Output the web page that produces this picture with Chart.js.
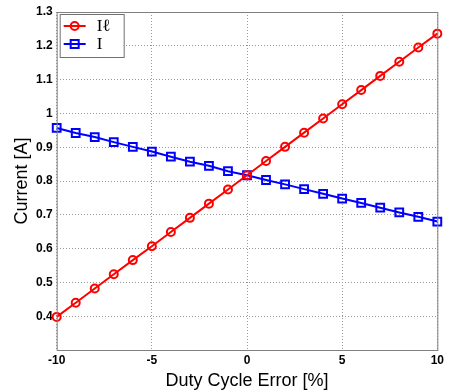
<!DOCTYPE html>
<html>
<head>
<meta charset="utf-8">
<script src="https://cdn.jsdelivr.net/npm/chart.js@4.4.0/dist/chart.umd.min.js"></script>
<style>
  html, body { margin: 0; padding: 0; background: #fff; }
  #wrap { width: 449px; height: 390px; }
</style>
</head>
<body>
<div id="wrap"><canvas id="chart" width="449" height="390"></canvas></div>
<script>
const dutyError = [-10, -9, -8, -7, -6, -5, -4, -3, -2, -1, 0, 1, 2, 3, 4, 5, 6, 7, 8, 9, 10]
const currentIL = [0.398, 0.440, 0.482, 0.524, 0.566, 0.607, 0.649, 0.691, 0.733, 0.775, 0.817,
    0.859, 0.901, 0.943, 0.985, 1.027, 1.069, 1.111, 1.153, 1.195, 1.236]
const currentI = [0.957, 0.942, 0.930, 0.915, 0.901, 0.887, 0.872, 0.857, 0.845, 0.829, 0.817,
    0.803, 0.790, 0.776, 0.762, 0.748, 0.735, 0.721, 0.707, 0.694, 0.680]
const seriesNames = ['I\u2113', 'I']

const toPoints = ys => dutyError.map((x, i) => ({ x: x, y: ys[i] }))

// frame around the plot + legend box inside top-left
const framePlugin = {
    id: 'frame',
    afterDraw(chart) {
        const { ctx, chartArea: a } = chart
        ctx.save()
        ctx.strokeStyle = '#808080'
        ctx.lineWidth = 1
        ctx.strokeRect(a.left + 0.5, a.top + 0.5, a.right - a.left, a.bottom - a.top)

        // legend
        const bx = a.left + 3, by = a.top + 2, bw = 64, bh = 43
        ctx.fillStyle = '#fff'
        ctx.fillRect(bx, by, bw, bh)
        ctx.strokeStyle = '#707070'
        ctx.strokeRect(bx + 0.5, by + 0.5, bw, bh)
        chart.data.datasets.forEach((ds, i) => {
            const y = by + 12 + i * 18
            ctx.strokeStyle = ds.borderColor
            ctx.lineWidth = 2
            ctx.beginPath()
            ctx.moveTo(bx + 4, y)
            ctx.lineTo(bx + 26, y)
            ctx.stroke()
            ctx.beginPath()
            if (ds.pointStyle === 'circle') {
                ctx.arc(bx + 15, y, 4, 0, Math.PI * 2)
            } else {
                ctx.rect(bx + 11, y - 4, 8, 8)
            }
            ctx.stroke()
            ctx.fillStyle = '#000'
            ctx.font = '17px "Liberation Serif", serif'
            ctx.textBaseline = 'middle'
            ctx.fillText(ds.label, bx + 37, y + 1)
        })
        ctx.restore()
    }
}

const ctx = document.getElementById('chart').getContext('2d')
new Chart(ctx, {
    type: 'line',
    data: {
        datasets: [{
            label: seriesNames[0],
            data: toPoints(currentIL),
            borderColor: '#ff0000',
            backgroundColor: 'rgba(0,0,0,0)',
            borderWidth: 2,
            pointStyle: 'circle',
            pointRadius: 4,
            pointBorderWidth: 2,
            pointBackgroundColor: 'rgba(0,0,0,0)'
        }, {
            label: seriesNames[1],
            data: toPoints(currentI),
            borderColor: '#0000ff',
            backgroundColor: 'rgba(0,0,0,0)',
            borderWidth: 2,
            pointStyle: 'rect',
            pointRadius: 5.5,
            pointBorderWidth: 2,
            pointBackgroundColor: 'rgba(0,0,0,0)'
        }]
    },
    options: {
        responsive: false,
        animation: false,
        clip: false,
        layout: { padding: { left: 13, right: 11, top: 12, bottom: 0 } },
        scales: {
            x: {
                type: 'linear',
                min: -10,
                max: 10,
                ticks: {
                    stepSize: 5,
                    color: '#000',
                    font: { family: 'Liberation Sans', size: 12, weight: 'bold', lineHeight: 1 },
                    padding: 5
                },
                grid: { color: '#9a9a9a', drawTicks: false },
                border: { display: false, dash: [1, 2] },
                title: {
                    display: true,
                    text: 'Duty Cycle Error [%]',
                    color: '#000',
                    font: { family: 'Liberation Sans', size: 18, lineHeight: 1 },
                    padding: { top: 0, bottom: 0 }
                }
            },
            y: {
                min: 0.3,
                max: 1.3,
                ticks: {
                    stepSize: 0.1,
                    color: '#000',
                    font: { family: 'Liberation Sans', size: 12, weight: 'bold', lineHeight: 1 },
                    padding: 4,
                    callback: v => {
                        const r = Math.round(v * 10) / 10
                        return r === 0.3 ? '' : String(r)
                    }
                },
                grid: { color: '#9a9a9a', drawTicks: false },
                border: { display: false, dash: [1, 2] },
                title: {
                    display: true,
                    text: 'Current [A]',
                    color: '#000',
                    font: { family: 'Liberation Sans', size: 18, lineHeight: 1 },
                    padding: { top: 0, bottom: 1 }
                }
            }
        },
        plugins: {
            legend: { display: false },
            tooltip: { enabled: false }
        }
    },
    plugins: [framePlugin]
})
</script>
</body>
</html>
